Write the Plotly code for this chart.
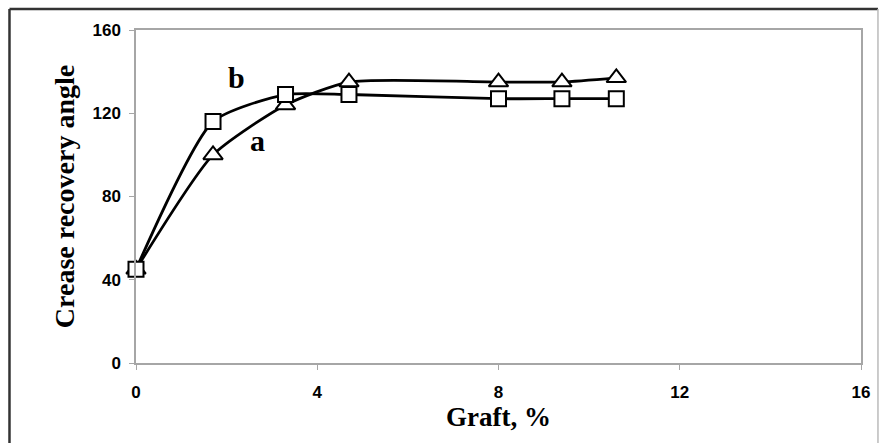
import plotly.graph_objects as go

# Graft level (%) and crease recovery angle for the two treatments
graft_pct = [0, 1.7, 3.3, 4.7, 8.0, 9.4, 10.6]
angle_a = [45, 100, 124, 135, 135, 135, 137]
angle_b = [45, 116, 129, 129, 127, 127, 127]

x_ticks = [0, 4, 8, 12, 16]
y_ticks = [0, 40, 80, 120, 160]

fig = go.Figure()

fig.add_trace(go.Scatter(
    x=graft_pct, y=angle_a, mode="lines+markers", name="a", cliponaxis=False,
    line=dict(color="black", width=2.8, shape="spline", smoothing=0.6),
    marker=dict(symbol="triangle-up", size=17, color="white",
                line=dict(color="black", width=2)),
))
fig.add_trace(go.Scatter(
    x=graft_pct, y=angle_b, mode="lines+markers", name="b", cliponaxis=False,
    line=dict(color="black", width=2.8, shape="spline", smoothing=0.6),
    marker=dict(symbol="square", size=15, color="white",
                line=dict(color="black", width=2)),
))

serif = "Liberation Serif, Times New Roman, serif"
sans = "Liberation Sans, Arial, sans-serif"

fig.add_annotation(x=2.22, y=137, text="<b>b</b>", showarrow=False,
                   font=dict(family=serif, size=30, color="black"))
fig.add_annotation(x=2.68, y=107, text="<b>a</b>", showarrow=False,
                   font=dict(family=serif, size=30, color="black"))

# outer frame around the whole figure
fig.add_shape(type="line", xref="paper", yref="paper",
              x0=-0.1745, x1=1.0234, y0=1.063, y1=1.063,
              line=dict(color="#333333", width=2.5))
fig.add_shape(type="line", xref="paper", yref="paper",
              x0=-0.1745, x1=-0.1745, y0=1.063, y1=-0.3,
              line=dict(color="#333333", width=2.5))
fig.add_shape(type="line", xref="paper", yref="paper",
              x0=1.0234, x1=1.0234, y0=1.063, y1=-0.3,
              line=dict(color="#bbbbbb", width=1.5))

axis_common = dict(
    showgrid=False, zeroline=False, showline=True, mirror=True,
    linecolor="#a6a6a6", linewidth=1.5,
    ticks="outside", ticklen=5, tickcolor="#a6a6a6", tickwidth=1,
    tickfont=dict(family=sans, size=17, color="black", weight="bold"),
)

fig.update_layout(
    width=882, height=443,
    margin=dict(l=136, r=18, t=30, b=80),
    paper_bgcolor="white", plot_bgcolor="white",
    showlegend=False,
    xaxis=dict(range=[0, 16], tickvals=x_ticks, ticktext=[str(v) for v in x_ticks],
               ticklabelstandoff=8,
               title=dict(text="<b>Graft, %</b>", standoff=2,
                          font=dict(family=serif, size=27, color="black")),
               **axis_common),
    yaxis=dict(range=[0, 160], tickvals=y_ticks, ticktext=[str(v) for v in y_ticks],
               ticklabelstandoff=5,
               title=dict(text="<b>Crease recovery angle</b>", standoff=10,
                          font=dict(family=serif, size=28, color="black")),
               **axis_common),
)

fig.write_html("out.html")
